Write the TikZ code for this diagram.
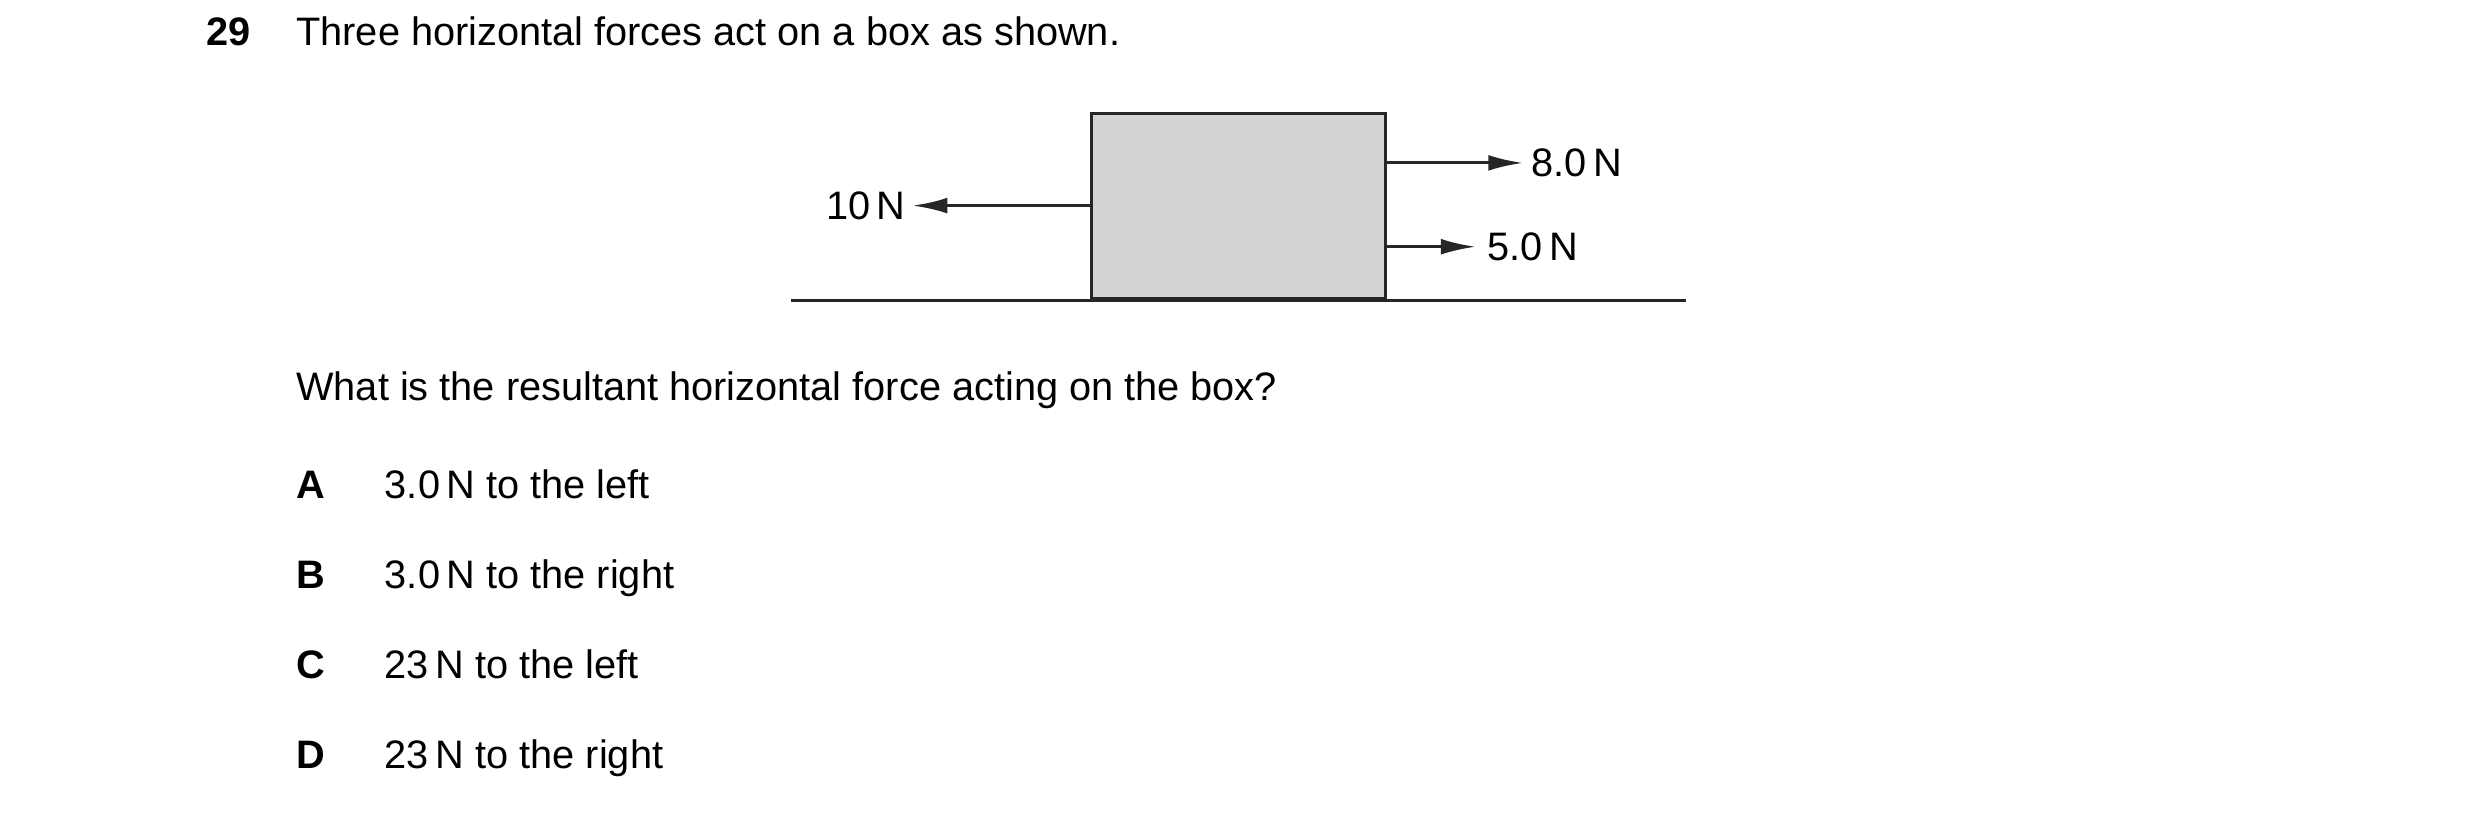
\documentclass[tikz,border=0pt]{standalone}
\usepackage{fontspec}
\setmainfont{Liberation Sans}
\usetikzlibrary{arrows.meta,positioning}

\begin{document}
\begin{tikzpicture}[x=0.02cm, y=-0.02cm,
	txt/.style={anchor=base west, inner sep=0pt, font=\fontsize{14.3}{17}\selectfont},
	force/.style={draw=black!85, line width=1.1pt, -{Latex[length=0.44cm, width=0.2cm]}}]
	\useasboundingbox (0,0) rectangle (1568,517);
	% question
	\node[txt, font=\fontsize{14.3}{17}\selectfont\bfseries] (num) at (130,29) {29};
	\node[txt] (head) at (187,29) {Three horizontal forces act on a box as shown.};
	% box and floor
	\node[draw=black!85, line width=1.1pt, fill={rgb,255:red,210;green,211;blue,213},
		minimum width=3.72cm, minimum height=2.34cm, inner sep=0pt] (box) at (783,130.5) {};
	\coordinate (floorL) at (500,190);
	\coordinate (floorR) at (1066,190);
	\draw[black!85, line width=1.1pt] (floorL) -- (floorR);
	% forces
	\coordinate (boxL) at (690,130);
	\coordinate (boxR1) at (876,103);
	\coordinate (boxR2) at (876,156);
	\coordinate (endL) at (577,130);
	\coordinate (endR1) at (963,103);
	\coordinate (endR2) at (933,156);
	\draw[force] (boxL) -- (endL);
	\draw[force] (boxR1) -- (endR1);
	\draw[force] (boxR2) -- (endR2);
	\node[txt, anchor=east] (ften) at (573,130) {10\,N};
	\node[txt, anchor=west] (feight) at (968,103) {8.0\,N};
	\node[txt, anchor=west] (ffive) at (940,156) {5.0\,N};
	% options
	\node[txt] (quest) at (187,253) {What is the resultant horizontal force acting on the box?};
	\foreach \lab/\ans/\yy in {A/3.0\,N to the left/315, B/3.0\,N to the right/372,
		C/23\,N to the left/429, D/23\,N to the right/486} {
		\node[txt, font=\fontsize{14.3}{17}\selectfont\bfseries] (opt\lab) at (187,\yy) {\lab};
		\node[txt] (ans\lab) at (243,\yy) {\ans};
	}
\end{tikzpicture}
\end{document}
